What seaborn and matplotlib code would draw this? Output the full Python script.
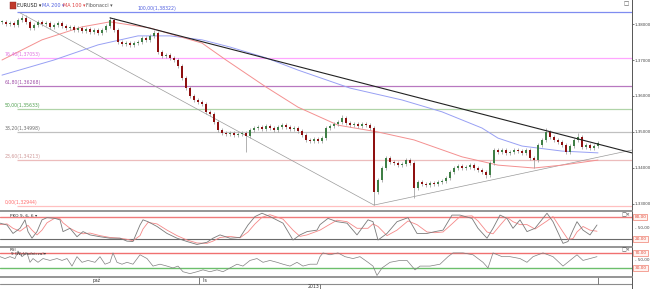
import numpy as np
import pandas as pd
import matplotlib
matplotlib.use("Agg")
import matplotlib.pyplot as plt
import matplotlib.transforms as mtransforms
from matplotlib.patches import Rectangle
from matplotlib.ticker import FuncFormatter
import seaborn as sns

# ---------------- data ----------------
close = [1.3806, 1.3800, 1.3803, 1.3797, 1.3811, 1.3818, 1.3806, 1.3789, 1.3797, 1.3806,
         1.3800, 1.3803, 1.3792, 1.3797, 1.3803, 1.3794, 1.3789, 1.3792, 1.3783, 1.3789,
         1.3781, 1.3786, 1.3778, 1.3783, 1.3775, 1.3783, 1.3794, 1.3811, 1.3783, 1.3750,
         1.3744, 1.3747, 1.3742, 1.3747, 1.3750, 1.3761, 1.3756, 1.3767, 1.3775, 1.3722,
         1.3711, 1.3714, 1.3706, 1.3700, 1.3683, 1.3650, 1.3622, 1.3600, 1.3589, 1.3583,
         1.3578, 1.3556, 1.3550, 1.3528, 1.3506, 1.3497, 1.3494, 1.3497, 1.3492, 1.3494,
         1.3497, 1.3489, 1.3506, 1.3511, 1.3514, 1.3508, 1.3517, 1.3511, 1.3506, 1.3514,
         1.3519, 1.3514, 1.3508, 1.3511, 1.3503, 1.3492, 1.3478, 1.3475, 1.3481, 1.3475,
         1.3483, 1.3511, 1.3517, 1.3522, 1.3528, 1.3539, 1.3525, 1.3519, 1.3522, 1.3517,
         1.3522, 1.3519, 1.3511, 1.3333, 1.3367, 1.3400, 1.3428, 1.3417, 1.3414, 1.3408,
         1.3411, 1.3422, 1.3414, 1.3344, 1.3361, 1.3356, 1.3353, 1.3358, 1.3356, 1.3361,
         1.3364, 1.3372, 1.3389, 1.3400, 1.3406, 1.3400, 1.3403, 1.3408, 1.3400, 1.3394,
         1.3389, 1.3381, 1.3414, 1.3450, 1.3444, 1.3450, 1.3442, 1.3444, 1.3450, 1.3447,
         1.3442, 1.3450, 1.3428, 1.3422, 1.3464, 1.3478, 1.3500, 1.3486, 1.3478, 1.3472,
         1.3464, 1.3444, 1.3461, 1.3478, 1.3486, 1.3458, 1.3464, 1.3456, 1.3461, 1.3469]
spike_idx = [5, 27, 38, 61, 85, 93, 103, 121, 133, 136, 144]
spike_val = [1.3825, 1.3819, 1.3783, 1.3444, 1.3547, 1.3297, 1.3317, 1.3372, 1.3400, 1.3511, 1.3497]

ma200_idx = [0, 13, 24, 34, 42, 50, 57, 66, 74, 87, 100, 110, 120, 124, 130, 140, 149]
ma200_val = [1.3658, 1.3700, 1.3742, 1.3767, 1.3767, 1.3756, 1.3736, 1.3706, 1.3672, 1.3622,
             1.3589, 1.3556, 1.3511, 1.3483, 1.3461, 1.3447, 1.3442]
ma100_idx = [0, 10, 20, 27, 37, 50, 56, 66, 74, 84, 94, 103, 115, 124, 133, 140, 149]
ma100_val = [1.3700, 1.3756, 1.3792, 1.3806, 1.3789, 1.3747, 1.3700, 1.3625, 1.3569, 1.3519,
             1.3500, 1.3478, 1.3431, 1.3408, 1.3400, 1.3408, 1.3422]

trend_black_x = [27, 157.5]
trend_black_y = [1.3817, 1.3442]
trend_gray1_x = [4.5, 93]
trend_gray1_y = [1.3831, 1.3297]
trend_gray2_x = [93, 157.5]
trend_gray2_y = [1.3297, 1.3450]

fib_pct = ["100,00", "76,40", "61,80", "50,00", "38,20", "23,60", "0,00"]
fib_price = [1.38322, 1.37053, 1.36268, 1.35633, 1.34998, 1.34213, 1.32944]
fib_line_col = ["#7f8cf0", "#ffa6ff", "#b878c0", "#b0d4a8", "#c0c0c0", "#ecbcbc", "#ffc0c0"]
fib_text_col = ["#4f5ee0", "#e070e0", "#a050a8", "#50a050", "#707070", "#d09a9a", "#ff6a6a"]

price_ticks = [1.33, 1.34, 1.35, 1.36, 1.37, 1.38]

stoch_x = [-0.5, 1.25, 2.75, 4.5, 5.75, 6.5, 7.5, 8.75, 10, 11.25, 13.25, 14.5, 15.25, 17, 18.75,
           20.25, 22, 24.5, 27, 29.5, 31.25, 32.75, 34.5, 35.25, 36.5, 38.75, 41.25, 43.75, 46.25,
           48.75, 51.25, 52.75, 54.5, 57, 59.5, 61.5, 63.25, 65, 67, 70.25, 72.75, 74.5, 76.25,
           78.75, 79.5, 81.5, 83.75, 86.25, 88.75, 91.5, 92.75, 94, 96.25, 98.75, 101.5, 103.75,
           106.25, 108.25, 110.25, 112.5, 114.5, 117.5, 119, 121.25, 122.75, 124.5, 126.25,
           127.75, 129.5, 131.25, 133.25, 136.25, 137.75, 140.25, 141.5, 142.75, 143.75, 145.25,
           147, 148.75]
stoch_k = [64, 59, 36, 50, 73, 41, 23, 41, 73, 79, 77, 73, 41, 50, 27, 41, 32, 27, 23, 23, 15, 14,
           59, 73, 68, 55, 36, 23, 14, 6, 12, 23, 32, 23, 25, 59, 82, 91, 82, 64, 18, 32, 41, 45,
           60, 77, 68, 64, 32, 73, 68, 18, 36, 68, 79, 36, 36, 41, 45, 86, 86, 77, 50, 23, 50, 86,
           77, 50, 73, 41, 50, 91, 68, 9, 14, 45, 68, 45, 32, 59]
stoch_d = [60, 62, 50, 42, 52, 58, 45, 32, 45, 65, 78, 76, 65, 50, 40, 35, 37, 30, 25, 23, 20, 16,
           30, 48, 66, 62, 45, 30, 18, 10, 9, 15, 25, 28, 24, 40, 62, 80, 87, 75, 45, 28, 32, 42,
           45, 58, 72, 68, 50, 50, 62, 55, 30, 45, 70, 60, 40, 38, 40, 62, 82, 84, 70, 40, 35, 58,
           80, 68, 60, 60, 48, 70, 82, 40, 20, 22, 40, 55, 45, 42]

rsi_x = [-0.5, 0.75, 2, 3.25, 4, 5, 6.25, 7, 7.75, 9, 10.25, 12, 13.75, 15, 16.25, 17.5, 18.75, 20,
         21.5, 23.25, 24.5, 25.75, 27, 27.75, 28.75, 30, 31.25, 32.75, 34.5, 36.25, 37.75, 39.5,
         41.25, 42.75, 44, 45.25, 47, 48.75, 50.25, 52, 53.75, 55.25, 57, 58.75, 60.25, 62, 63.75,
         65.25, 67, 68.75, 70.25, 72, 73.75, 75.25, 77, 78.75, 79.5, 80.25, 82, 84, 85.75, 87.75,
         89.5, 91.5, 92.75, 93.75, 95, 97, 99.5, 101.25, 103.25, 104.5, 107, 109.5, 111.5, 112.75,
         115.25, 117.75, 120.25, 121.5, 122.75, 125, 127, 129.5, 131.25, 132.75, 135.25, 137.75,
         140.25, 142, 143.75, 145.25, 147, 148.75]
rsi_val = [60, 55, 60, 55, 75, 60, 70, 45, 55, 45, 55, 50, 55, 50, 55, 35, 60, 45, 50, 45, 60, 40,
           45, 70, 45, 40, 45, 40, 65, 55, 35, 40, 35, 30, 35, 20, 15, 20, 25, 20, 25, 20, 30, 40,
           35, 50, 55, 45, 50, 45, 40, 35, 45, 35, 40, 40, 60, 70, 65, 70, 60, 55, 60, 45, 35, 10,
           30, 45, 50, 50, 25, 35, 35, 40, 60, 70, 70, 65, 45, 30, 70, 60, 60, 55, 45, 60, 70, 60,
           35, 50, 65, 50, 55, 60]

date_labels = ["paź", "lis", "2013"]
date_pos = [23.75, 50.25, 77.75]
date_row = [0, 0, 1]
date_sep = [49.25, 149]

# ---------------- figure ----------------
sns.set_style("white")
plt.rcParams['font.family'] = ['DejaVu Sans']

W, H = 653, 289
fig = plt.figure(figsize=(W / 100, H / 100), dpi=100)
fig.patch.set_facecolor("white")


def rect(x0, y0, x1, y1):
    return [x0 / W, 1 - y1 / H, (x1 - x0) / W, (y1 - y0) / H]


ax = fig.add_axes(rect(0, 0, 632, 210.5))
axs = fig.add_axes(rect(0, 210.5, 632, 246.5))
axr = fig.add_axes(rect(0, 246.5, 632, 277))
axd = fig.add_axes(rect(0, 277, 632, 289))

XL = (-0.5, 157.5)
for a in (ax, axs, axr, axd):
    a.set_xlim(*XL)
    a.set_facecolor("white")
    for s in a.spines.values():
        s.set_visible(False)
    a.spines['right'].set_visible(True)
    a.spines['right'].set_color("#555555")
    a.spines['right'].set_linewidth(0.7)
    a.set_xticks([])
    a.set_xlabel("")
    a.set_ylabel("")
for a in (axs, axr, axd):
    a.spines['top'].set_visible(True)
    a.spines['top'].set_color("#8c8c8c")
    a.spines['top'].set_linewidth(1.3)

# ---- main price panel ----
ax.set_ylim(1.328194, 1.386667)
n = len(close)
idx = np.arange(n)
opn = [close[0]] + close[:-1]
wick = 0.0006
hi = [max(o, c) + wick for o, c in zip(opn, close)]
lo = [min(o, c) - wick for o, c in zip(opn, close)]
for k, v in zip(spike_idx, spike_val):
    hi[k] = max(hi[k], v)
    lo[k] = min(lo[k], v)

# fib lines
for p, col in zip(fib_price, fib_line_col):
    ax.hlines(p, 3.75, XL[1], color=col, lw=0.9, zorder=1)
blend = mtransforms.blended_transform_factory(ax.transAxes, ax.transData)
for j, (pct, p, tc) in enumerate(zip(fib_pct, fib_price, fib_text_col)):
    lab = f"{pct}({p:.5f})".replace("1.", "1,")
    xt = 137 / 632 if j == 0 else 5 / 632
    ax.text(xt, p + 0.00035, lab, transform=blend, fontsize=3.3, color=tc,
            ha="left", va="bottom", zorder=5)

# trendlines
sns.lineplot(x=trend_gray1_x, y=trend_gray1_y, ax=ax, color="#9a9a9a", lw=0.5, zorder=2)
sns.lineplot(x=trend_gray2_x, y=trend_gray2_y, ax=ax, color="#9a9a9a", lw=0.5, zorder=2)

# moving averages
sns.lineplot(x=ma200_idx, y=ma200_val, ax=ax, color="#98a0f4", lw=0.7, zorder=2)
sns.lineplot(x=ma100_idx, y=ma100_val, ax=ax, color="#f49090", lw=0.7, zorder=2)

# candles
ax.vlines(idx, lo, hi, color="#9c9c9c", lw=0.55, zorder=3)
body_b = [min(o, c) for o, c in zip(opn, close)]
body_h = [max(abs(c - o), 0.00012) for o, c in zip(opn, close)]
cols = ["#3f7f46" if c >= o else "#8e1010" for o, c in zip(opn, close)]
ax.bar(idx, body_h, bottom=body_b, width=0.6, color=cols, edgecolor="none", zorder=4)

sns.lineplot(x=trend_black_x, y=trend_black_y, ax=ax, color="#222222", lw=0.8, zorder=5)

ax.yaxis.tick_right()
ax.set_yticks(price_ticks)
ax.yaxis.set_major_formatter(FuncFormatter(lambda v, _: f"{v:.5f}".replace(".", ",")))
ax.tick_params(axis="y", right=True, left=False, length=1.5, width=0.5, pad=0.6,
               labelsize=2.9, colors="#444444")
ax.set_xlabel("")
ax.set_ylabel("")

# header legend
fig.add_artist(Rectangle((10 / W, 1 - 8.5 / H), 6 / W, 6.5 / H, transform=fig.transFigure,
                         facecolor="#c0392b", edgecolor="#8a1f1f", lw=0.3))
head = [("EURUSD ▾", 17, "#222222"), ("MA 200 ▾", 42, "#5060e0"),
        ("MA 100 ▾", 63, "#e04040"), ("Fibonacci ▾", 86, "#555555")]
for t, xp, c in head:
    fig.text(xp / W, 1 - 5.2 / H, t, fontsize=3.5, color=c, ha="left", va="center")
fig.text(623 / W, 1 - 4 / H, "□", fontsize=4, color="#555555", ha="left", va="center")

# ---- stochastic panel ----
axs.set_ylim(0.4, 98.5)
axs.axhline(80, color="#f07a7a", lw=1.0, zorder=1)
axs.axhline(20, color="#6a6a6a", lw=0.8, zorder=1)
sns.lineplot(x=stoch_x, y=stoch_d, ax=axs, color="#f58888", lw=0.6, zorder=2)
sns.lineplot(x=stoch_x, y=stoch_k, ax=axs, color="#7a7a7a", lw=0.6, zorder=3)
axs.set_yticks([])
axs.set_xlabel("")
axs.set_ylabel("")
axs.text(10 / 632, 0.86, "PKO 9, 6, 6 ▾", transform=axs.transAxes, fontsize=3.2,
         color="#333333", ha="left", va="center")
axs.text(622 / 632, 0.88, "□×", transform=axs.transAxes, fontsize=3.6, color="#444444",
         ha="left", va="center")

# ---- RSI panel ----
axr.set_ylim(6, 87)
axr.axhline(70, color="#f07070", lw=1.0, zorder=1)
axr.axhline(30, color="#6cbf6c", lw=1.0, zorder=1)
sns.lineplot(x=rsi_x, y=rsi_val, ax=axr, color="#808080", lw=0.5, zorder=2)
axr.set_yticks([])
axr.set_xlabel("")
axr.set_ylabel("")
axr.text(10 / 632, 0.90, "RSI", transform=axr.transAxes, fontsize=3.0,
         color="#333333", ha="left", va="center")
axr.text(11 / 632, 0.76, "9 (Wykładnicza)▾", transform=axr.transAxes, fontsize=3.0,
         color="#333333", ha="left", va="center")
axr.text(622 / 632, 0.88, "□×", transform=axr.transAxes, fontsize=3.6, color="#444444",
         ha="left", va="center")


# right-side level labels
def level_label(a, val, txt, boxed):
    tr = mtransforms.blended_transform_factory(a.transAxes, a.transData)
    if boxed:
        a.text(1.004, val, txt, transform=tr, fontsize=3.1, color="#e04a3a", ha="left",
               va="center", clip_on=False,
               bbox=dict(boxstyle="square,pad=0.25", facecolor="#fff3f0",
                         edgecolor="#f08070", lw=0.5))
    else:
        a.text(1.005, val, "- " + txt, transform=tr, fontsize=3.0, color="#444444",
               ha="left", va="center", clip_on=False)


level_label(axs, 80, "80,00", True)
level_label(axs, 50, "50,00", False)
level_label(axs, 20, "20,00", True)
level_label(axr, 70, "70,00", True)
level_label(axr, 50, "50,00", False)
level_label(axr, 30, "30,00", True)

# ---- date row ----
axd.set_ylim(0, 12)
axd.set_yticks([])
axd.axhline(5, color="#8c8c8c", lw=0.8)
for s in date_sep:
    axd.vlines(s, 5, 12, color="#666666", lw=0.6)
axd.vlines(79.5, 0, 5, color="#666666", lw=0.6)
for t, p, r in zip(date_labels, date_pos, date_row):
    yv = 8.3 if r == 0 else 2.5
    ha = "center" if t != "lis" else "left"
    axd.text(p, yv, t, fontsize=3.3, color="#333333", ha=ha, va="center")

fig.savefig("out.png", dpi=100, facecolor="white")
